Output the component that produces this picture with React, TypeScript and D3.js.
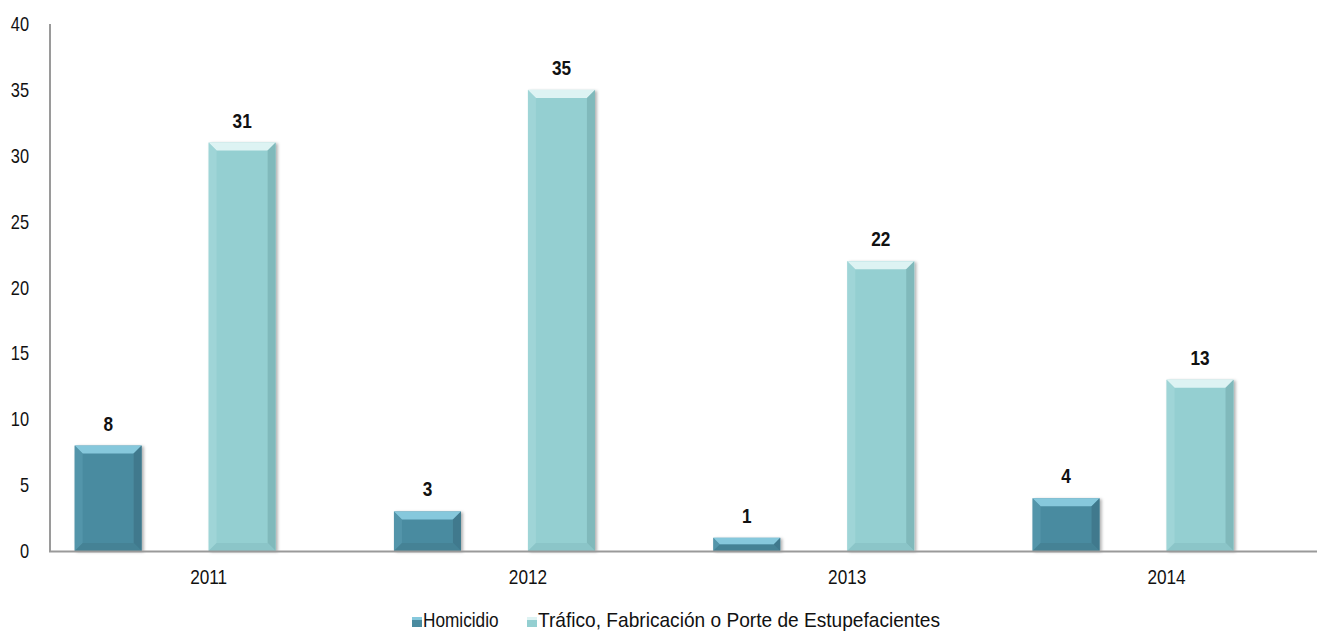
import * as d3 from "d3";

const years = ["2011", "2012", "2013", "2014"];
const homicidio = [8, 3, 1, 4];
const trafico = [31, 35, 22, 13];
const yTicks = [0, 5, 10, 15, 20, 25, 30, 35, 40];
const seriesNames = ["Homicidio", "Tráfico, Fabricación o Porte de Estupefacientes"];

const width = 1317;
const height = 632;
const font = "'Liberation Sans', Arial, sans-serif";
const narrow = 0.82; // fake Arial Narrow

const palette = [
  { face: "#4A8BA0", top: "#86C8DC", left: "#5A9CB0", right: "#3B7284", bottom: "#427F92" },
  { face: "#94CFD1", top: "#DDF3F3", left: "#A6D9DA", right: "#78AFB2", bottom: "#88C2C5" },
];

const Label = ({ x, y, anchor = "middle", size = 20, bold = false, len, children }: any) => (
  <text
    transform={`translate(${x},${y}) scale(${narrow},1)`}
    textAnchor={anchor}
    fontFamily={font}
    fontSize={size}
    fontWeight={bold ? "bold" : "normal"}
    fill="#111"
    textLength={len ? len / narrow : undefined}
    lengthAdjust={len ? "spacingAndGlyphs" : undefined}
  >
    {children}
  </text>
);

const Bevel = ({ x, y, w, h, c }: { x: number; y: number; w: number; h: number; c: typeof palette[0] }) => {
  const b = Math.min(8, h / 2, w / 2);
  return (
    <g filter="url(#shadow)">
      <rect x={x} y={y} width={w} height={h} fill={c.face} />
      <polygon points={`${x},${y} ${x + w},${y} ${x + w - b},${y + b} ${x + b},${y + b}`} fill={c.top} />
      <polygon points={`${x},${y} ${x + b},${y + b} ${x + b},${y + h - b} ${x},${y + h}`} fill={c.left} opacity={0.6} />
      <polygon points={`${x + w},${y} ${x + w},${y + h} ${x + w - b},${y + h - b} ${x + w - b},${y + b}`} fill={c.right} opacity={0.7} />
      <polygon points={`${x},${y + h} ${x + b},${y + h - b} ${x + w - b},${y + h - b} ${x + w},${y + h}`} fill={c.bottom} opacity={0.8} />
    </g>
  );
};

export default function App() {
  const y = d3.scaleLinear().domain([0, 40]).range([551, 24]);
  // the band runs past the right edge, as in the cropped original
  const x0 = d3.scaleBand().domain(years).range([49, 49 + 4 * 319.3]);
  // four slots per year (two empty series in the source workbook)
  const x1 = d3
    .scaleBand()
    .domain(["h", "_a", "t", "_b"])
    .range([0, x0.bandwidth()])
    .paddingOuter(0.383);

  const series = [
    { key: "h", values: homicidio, c: palette[0] },
    { key: "t", values: trafico, c: palette[1] },
  ];

  return (
    <svg width={width} height={height} style={{ position: "absolute", left: 0, top: 0 }}>
      <defs>
        <filter id="shadow" x="-20%" y="-20%" width="140%" height="140%">
          <feDropShadow dx={2} dy={1} stdDeviation={1.5} floodColor="#000" floodOpacity={0.3} />
        </filter>
      </defs>
      <rect width={width} height={height} fill="#fff" />

      {yTicks.map((t) => (
        <Label key={`yt-${t}`} x={29} y={y(t) + 7} anchor="end" size={20}>
          {t}
        </Label>
      ))}

      {series.map((s) =>
        years.map((yr, i) => {
          const bx = x0(yr)! + x1(s.key)!;
          const by = y(s.values[i]);
          return (
            <g key={`b-${s.key}-${yr}`}>
              <Bevel x={bx} y={by} w={x1.bandwidth()} h={y(0) - by} c={s.c} />
              <Label x={bx + x1.bandwidth() / 2} y={by - 15} size={21} bold>
                {s.values[i]}
              </Label>
            </g>
          );
        })
      )}

      <line x1={50} x2={50} y1={24} y2={552} stroke="#9a9a9a" strokeWidth={2} />
      <line x1={49} x2={width} y1={551.5} y2={551.5} stroke="#9a9a9a" strokeWidth={2} />

      {years.map((yr) => (
        <Label key={`xl-${yr}`} x={x0(yr)! + x0.bandwidth() / 2} y={584} size={21}>
          {yr}
        </Label>
      ))}

      {[
        { x: 412, c: palette[0], label: seriesNames[0], len: undefined },
        { x: 527, c: palette[1], label: seriesNames[1], len: 402 },
      ].map((l) => (
        <g key={`lg-${l.label}`}>
          <rect x={l.x} y={617} width={10} height={10} fill={l.c.face} />
          <rect x={l.x} y={617} width={10} height={3} fill={l.c.top} />
          <Label x={l.x + 11} y={627} anchor="start" size={21} len={l.len}>
            {l.label}
          </Label>
        </g>
      ))}
    </svg>
  );
}
